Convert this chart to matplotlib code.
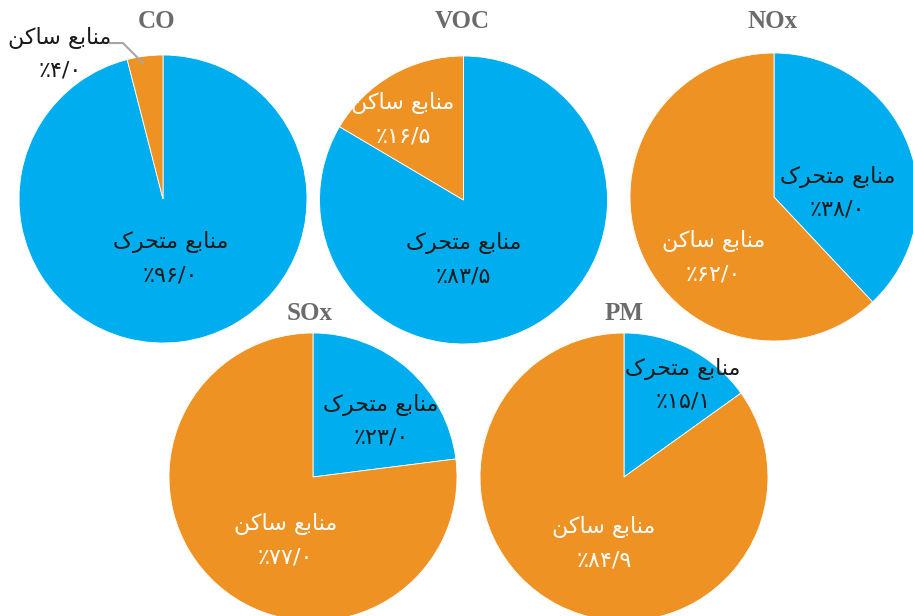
import matplotlib
matplotlib.use("Agg")
import matplotlib.pyplot as plt

pollutants = ["CO", "VOC", "NOx", "SOx", "PM"]
mobile = [96.0, 83.5, 38.0, 23.0, 15.1]
stationary = [4.0, 16.5, 62.0, 77.0, 84.9]
label_mobile = "منابع متحرک"
label_stationary = "منابع ساکن"

BLUE = "#00AEEF"
ORANGE = "#EE9224"
W, H = 913, 616

# --- minimal Arabic shaping for the letters used ---
FORMS = {
    "\u0627": ("\uFE8D", "\uFE8E", None, None),
    "\u0628": ("\uFE8F", "\uFE90", "\uFE91", "\uFE92"),
    "\u062A": ("\uFE95", "\uFE96", "\uFE97", "\uFE98"),
    "\u062D": ("\uFEA1", "\uFEA2", "\uFEA3", "\uFEA4"),
    "\u0631": ("\uFEAD", "\uFEAE", None, None),
    "\u0633": ("\uFEB1", "\uFEB2", "\uFEB3", "\uFEB4"),
    "\u0639": ("\uFEC9", "\uFECA", "\uFECB", "\uFECC"),
    "\u0645": ("\uFEE1", "\uFEE2", "\uFEE3", "\uFEE4"),
    "\u0646": ("\uFEE5", "\uFEE6", "\uFEE7", "\uFEE8"),
    "\u06A9": ("\uFB8E", "\uFB8F", "\uFB90", "\uFB91"),
}


def joins_left(c):
    return c in FORMS and FORMS[c][2] is not None


def shape(text):
    out = []
    for i, c in enumerate(text):
        if c not in FORMS:
            out.append(c)
            continue
        prev = text[i - 1] if i > 0 else ""
        nxt = text[i + 1] if i + 1 < len(text) else ""
        jp = joins_left(prev)
        jn = nxt in FORMS and joins_left(c)
        iso, fin, ini, med = FORMS[c]
        if jp and jn:
            out.append(med)
        elif jp:
            out.append(fin)
        elif jn:
            out.append(ini)
        else:
            out.append(iso)
    return "".join(reversed(out))


def fa_pct(v):
    s = f"{v:.1f}".replace(".", "/")
    s = s.translate(str.maketrans("0123456789", "۰۱۲۳۴۵۶۷۸۹"))
    return "\u066A" + s


# layout: pie centres (pixels from top-left) and radius
centres = [(163, 199), (463.5, 200), (774, 197), (313, 477), (624, 477)]
R = 144
title_pos = [(157, 22), (462, 21), (773, 21), (310, 314), (624, 313)]
# label block offsets in radius units (mobile, stationary)
mob_off = [(0.05, -0.41), (0.0, -0.41), (0.44, 0.03), (0.47, 0.39), (0.41, 0.64)]
sta_off = [(-0.715, 1.01), (-0.42, 0.56), (-0.42, -0.42), (-0.19, -0.44), (-0.14, -0.46)]

fig = plt.figure(figsize=(W / 100, H / 100), dpi=100)
fig.patch.set_facecolor("white")

txt_font = dict(family=["DejaVu Sans"], fontsize=16, ha="center", va="center",
                linespacing=1.75, multialignment="center")

for i, name in enumerate(pollutants):
    cx, cy = centres[i]
    ax = fig.add_axes([(cx - R) / W, (H - cy - R) / H, 2 * R / W, 2 * R / H])
    ax.pie([mobile[i], stationary[i]], colors=[BLUE, ORANGE], startangle=90,
           counterclock=False, radius=1,
           wedgeprops=dict(edgecolor="white", linewidth=0.6))
    ax.set_xlim(-1, 1)
    ax.set_ylim(-1, 1)
    ax.set_aspect("equal")
    ax.axis("off")

    mx, my = mob_off[i]
    ax.text(mx, my, shape(label_mobile) + "\n" + fa_pct(mobile[i]),
            color="#1a1a1a", **txt_font)
    sx, sy = sta_off[i]
    scol = "#1a1a1a" if i == 0 else "white"
    ax.text(sx, sy, shape(label_stationary) + "\n" + fa_pct(stationary[i]),
            color=scol, **txt_font)
    if i == 0:
        ax.plot([-0.368, -0.278, -0.139], [1.083, 1.083, 0.944],
                color="#A6A6A6", lw=1.5, clip_on=False)

    tx, ty = title_pos[i]
    fig.text(tx / W, 1 - ty / H, name, ha="center", va="center",
             family="Liberation Serif", fontweight="bold", fontsize=18,
             color="#6B6B6B")

fig.savefig("out.png", dpi=100)
